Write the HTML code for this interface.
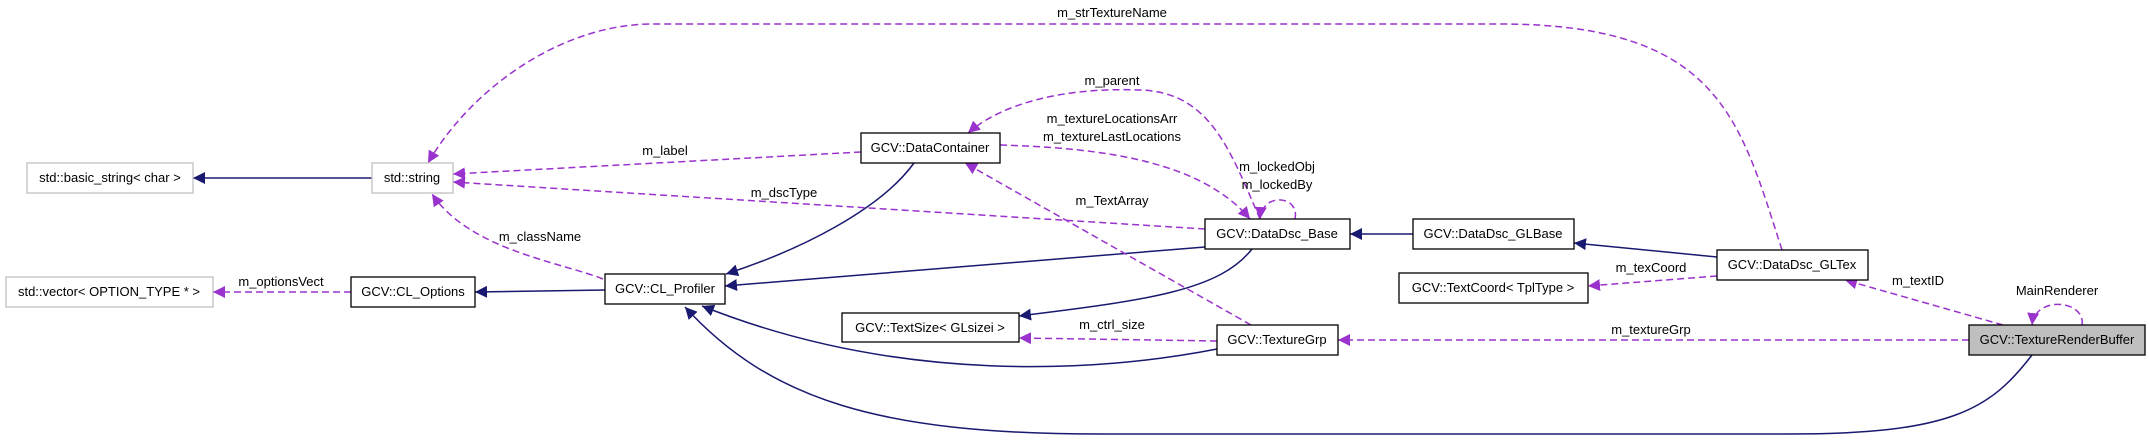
<!DOCTYPE html>
<html><head><meta charset="utf-8"><style>
html,body{margin:0;padding:0;background:#fff;width:2149px;height:440px;overflow:hidden}
text{font-family:"Liberation Sans",sans-serif;font-size:13px;fill:#000}
</style></head><body>
<svg width="2149" height="440" viewBox="0 0 2149 440" xmlns="http://www.w3.org/2000/svg">
<defs>
<marker id="an" viewBox="0 0 10 10" refX="10" refY="5" markerWidth="12" markerHeight="12" markerUnits="userSpaceOnUse" orient="auto"><path d="M0,0 L10,5 L0,10 z" fill="#191970"/></marker>
<marker id="ap" viewBox="0 0 10 10" refX="10" refY="5" markerWidth="12" markerHeight="12" markerUnits="userSpaceOnUse" orient="auto"><path d="M0,0 L10,5 L0,10 z" fill="#9a32cd"/></marker>
</defs>
<g fill="none" stroke="#191970" stroke-width="1.5" marker-end="url(#an)">
<path d="M372,178 L193,178"/>
<path d="M605,290 L475,292"/>
<path d="M914,163 C880,210 800,250 726,274"/>
<path d="M1205,247 L725,286"/>
<path d="M1217,349 C1100,372 900,385 702,306"/>
<path d="M2032,355 C1990,410 1950,434 1790,434 L1100,434 C880,434 770,400 685,307"/>
<path d="M1252,249 C1220,290 1150,300 1019,316"/>
<path d="M1413,234 L1350,234"/>
<path d="M1717,257 L1574,243"/>
</g>
<g fill="none" stroke="#9a32cd" stroke-width="1.5" stroke-dasharray="7,4" marker-end="url(#ap)">
<path d="M351,292 L213,292"/>
<path d="M603,279 C560,262 470,250 432,194"/>
<path d="M861,152 L453,174"/>
<path d="M1205,229 L453,182"/>
<path d="M1217,341 L1019,338"/>
<path d="M1717,276 L1588,286"/>
<path d="M1969,340 L1338,340"/>
<path d="M2003,325 L1845,280"/>
<path d="M2082,325 C2086,300 2035,295 2032,325"/>
<path d="M1260,219 C1230,150 1210,92 1140,90 C1060,87 1000,105 968,133"/>
<path d="M1000,145 C1100,148 1200,160 1250,219"/>
<path d="M1251,325 L965,163"/>
<path d="M1295,219 C1300,195 1262,192 1260,219"/>
<path d="M1782,250 C1740,120 1720,24 1500,24 L653,24 C560,24 470,90 428,163"/>
</g>
<g stroke-width="1.3">
<rect x="27" y="163" width="166" height="30" fill="#fff" stroke="#bfbfbf"/>
<rect x="372" y="163" width="81" height="30" fill="#fff" stroke="#bfbfbf"/>
<rect x="6" y="277" width="207" height="30" fill="#fff" stroke="#bfbfbf"/>
<rect x="351" y="277" width="124" height="30" fill="#fff" stroke="#000"/>
<rect x="605" y="274" width="120" height="30" fill="#fff" stroke="#000"/>
<rect x="861" y="133" width="139" height="30" fill="#fff" stroke="#000"/>
<rect x="842" y="313" width="177" height="29" fill="#fff" stroke="#000"/>
<rect x="1205" y="219" width="145" height="30" fill="#fff" stroke="#000"/>
<rect x="1413" y="219" width="161" height="30" fill="#fff" stroke="#000"/>
<rect x="1717" y="250" width="151" height="30" fill="#fff" stroke="#000"/>
<rect x="1399" y="273" width="189" height="30" fill="#fff" stroke="#000"/>
<rect x="1217" y="325" width="121" height="30" fill="#fff" stroke="#000"/>
<rect x="1969" y="325" width="176" height="30" fill="#bfbfbf" stroke="#000"/>
</g>
<g text-anchor="middle">
<text x="110" y="182">std::basic_string&lt; char &gt;</text>
<text x="412" y="182">std::string</text>
<text x="109" y="296">std::vector&lt; OPTION_TYPE * &gt;</text>
<text x="413" y="296">GCV::CL_Options</text>
<text x="665" y="293">GCV::CL_Profiler</text>
<text x="930" y="152">GCV::DataContainer</text>
<text x="930" y="332">GCV::TextSize&lt; GLsizei &gt;</text>
<text x="1277" y="238">GCV::DataDsc_Base</text>
<text x="1493" y="238">GCV::DataDsc_GLBase</text>
<text x="1792" y="269">GCV::DataDsc_GLTex</text>
<text x="1493" y="292">GCV::TextCoord&lt; TplType &gt;</text>
<text x="1277" y="344">GCV::TextureGrp</text>
<text x="2057" y="344">GCV::TextureRenderBuffer</text>
<text x="1112" y="17">m_strTextureName</text>
<text x="1112" y="85">m_parent</text>
<text x="1112" y="123">m_textureLocationsArr</text>
<text x="1112" y="141">m_textureLastLocations</text>
<text x="1277" y="171">m_lockedObj</text>
<text x="1277" y="189">m_lockedBy</text>
<text x="1112" y="205">m_TextArray</text>
<text x="665" y="155">m_label</text>
<text x="784" y="197">m_dscType</text>
<text x="540" y="241">m_className</text>
<text x="281" y="286">m_optionsVect</text>
<text x="1112" y="329">m_ctrl_size</text>
<text x="1651" y="272">m_texCoord</text>
<text x="1918" y="285">m_textID</text>
<text x="2057" y="295">MainRenderer</text>
<text x="1651" y="334">m_textureGrp</text>
</g>
</svg>
</body></html>
